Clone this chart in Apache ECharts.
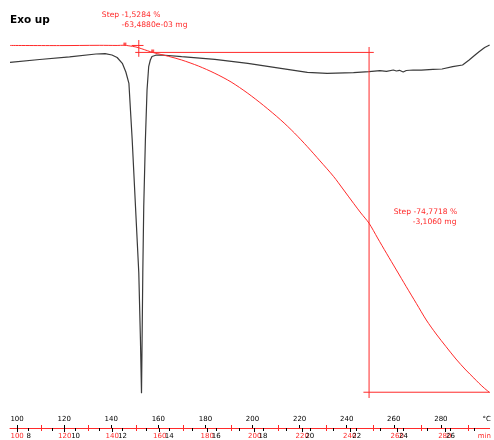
<!DOCTYPE html>
<html><head><meta charset="utf-8">
<script src="https://cdn.jsdelivr.net/npm/echarts@6/dist/echarts.min.js"></script>
<style>html,body{margin:0;padding:0;background:#fff}#c{width:494px;height:440px}</style>
</head><body><div id="c"></div>
<script>
// ---- DSC curve (temperature °C, heat flow arbitrary units, exo up) ----
const dscTemp = [97.0,109.6,122.3,133.5,137.4,140.3,142.5,144.7,146.2,147.5,148.9,150.3,151.7,152.4,152.85,153.1,153.4,153.8,154.5,155.2,155.9,156.6,157.3,158.9,161.5,169.9,184.0,198.0,212.0,223.3,231.7,242.9,249.5,254.1,256.9,259.8,261.1,262.4,264.0,265.3,268.2,271.7,276.6,280.5,285.0,289.2,292.0,294.0,296.2,298.6,300.7];
const dscHeatFlow = [-0.743,-0.65,-0.56,-0.467,-0.457,-0.5,-0.583,-0.777,-1.067,-1.443,-3.333,-5.557,-7.767,-10.0,-11.777,-10.0,-7.767,-5.557,-3.333,-1.667,-0.89,-0.667,-0.55,-0.507,-0.5,-0.557,-0.643,-0.777,-0.943,-1.077,-1.11,-1.09,-1.057,-1.023,-1.043,-1.0,-1.033,-1.01,-1.067,-1.017,-1.0,-1.007,-0.977,-0.967,-0.89,-0.833,-0.667,-0.533,-0.39,-0.25,-0.167];
// ---- TGA curve (temperature °C, mass %) ----
const tgaTemp = [97.0,118.0,134.9,142.5,145.4,147.5,150.5,153.0,155.5,158.0,164.3,169.9,177.0,184.0,190.9,198.0,204.7,212.0,217.8,223.3,228.7,234.5,238.4,242.9,246.0,249.5,253.1,256.9,261.1,265.3,269.6,273.8,278.0,282.2,286.4,290.6,294.0,296.2,298.6,300.7];
const tgaMass = [100.0,99.97,100.03,100.0,100.05,99.92,99.66,99.26,98.82,98.41,97.61,96.8,95.48,93.87,91.96,89.47,86.79,83.6,80.74,77.72,74.58,71.12,68.42,65.27,63.14,60.87,57.64,54.27,50.6,46.92,43.22,39.59,36.51,33.72,31.01,28.59,26.83,25.67,24.52,23.64];
// ---- step evaluation (temperature °C, mass %) ----
const step1Temp = 151.7, step1From = 100.0, step1To = 98.47;
const step2Temp = 249.5, step2To = 23.7;
const step1Points = [[145.8,100.3],[157.6,98.78]];
const step1Text = ['Step -1,5284 %', '-63,4880e-03 mg'];
const step2Text = ['Step -74,7718 %', '-3,1060 mg'];
// ---- tick labels ----
const tempLabels = [100,120,140,160,180,200,220,240,260,280];
const tempMinorTicks = [110,130,150,170,190,210,230,250,270,290];
const timeLabels = [8,10,12,14,16,18,20,22,24,26];
const timeTicks = [8,9,10,11,12,13,14,15,16,17,18,19,20,21,22,23,24,25,26,27];
const tempUnit = '°C', timeUnit = 'min';

const T0 = 97, T1 = 300.7;
const tOff = 25, rate = 10; // time = (T - 25)/10
const FONT = 'DejaVu Sans';
const RED = '#ff2a2a';
const GRID = {left:10, right:0, top:40, bottom:12};

function xAx(i, extra){
  const base = {type:'value', min:T0, max:T1, gridIndex:i, position:'bottom',
    splitLine:{show:false}, axisLine:{show:false, onZero:false}, axisTick:{show:false}, axisLabel:{show:false}};
  const o = Object.assign(base, extra);
  o.axisLine = Object.assign({onZero:false}, o.axisLine);
  return o;
}
function yAx(i){ return {type:'value', gridIndex:i, show:false, min:0, max:1, splitLine:{show:false}}; }

const chart = echarts.init(document.getElementById('c'), null, {renderer:'canvas'});
const lineSeries = (name, data, color, w, yIdx, smooth) => ({name, type:'line', xAxisIndex:0, yAxisIndex:yIdx, data, showSymbol:false, symbol:'none', smooth:smooth||false, lineStyle:{color, width:w}, silent:true, clip:false, z:3});

chart.setOption({
  animation:false,
  backgroundColor:'#fff',
  grid:[GRID,GRID,GRID,GRID,GRID].map(g=>Object.assign({}, g)),
  xAxis:[
    xAx(0, {axisLine:{show:true, lineStyle:{color:RED, width:1}},
        axisTick:{show:true, inside:true, length:3, customValues:tempLabels, lineStyle:{color:'#000'}},
        axisLabel:{show:true, inside:true, margin:5, color:'#000', fontSize:7, fontFamily:FONT,
          customValues:tempLabels.concat([299.5]), formatter:v=> v>290 ? tempUnit : String(v)}}),
    xAx(1, {axisTick:{show:true, inside:false, length:4, customValues:tempLabels, lineStyle:{color:'#000'}},
        axisLabel:{show:true, margin:5, color:RED, fontSize:7, fontFamily:FONT, customValues:tempLabels, formatter:v=>String(v)}}),
    xAx(2, {axisTick:{show:true, inside:true, length:3, customValues:tempMinorTicks, lineStyle:{color:RED}}}),
    xAx(3, {axisTick:{show:true, inside:false, length:3, customValues:tempMinorTicks, lineStyle:{color:RED}}}),
    xAx(4, {min:(T0-tOff)/rate, max:(T1-tOff)/rate,
     axisTick:{show:true, inside:false, length:3, customValues:timeTicks, lineStyle:{color:'#000'}},
     axisLabel:{show:true, margin:5, color:'#000', fontSize:7, fontFamily:FONT,
       customValues:timeLabels.concat([27.45]),
       formatter:v=> v>27 ? '{u|'+timeUnit+'}' : String(v), rich:{u:{color:RED, fontSize:7, fontFamily:FONT}}}})
  ],
  yAxis:[
    {type:'value', gridIndex:0, min:-12.933, max:0, show:false, splitLine:{show:false}},
    {type:'value', gridIndex:0, min:15.83, max:101.2, show:false, splitLine:{show:false}},
    yAx(1), yAx(2), yAx(3), yAx(4)
  ],
  series:[
    lineSeries('DSC', dscTemp.map((t,i)=>[t,dscHeatFlow[i]]), '#3a3a3a', 1.2, 0),
    lineSeries('TGA', tgaTemp.map((t,i)=>[t,tgaMass[i]]), RED, 1, 1, 0.3),
    lineSeries('s1v', [[step1Temp,101.2],[step1Temp,97.5]], RED, 1, 1),
    lineSeries('s1h', [[step1Temp-1.5,step1To],[step2Temp+2,step1To]], RED, 1, 1),
    lineSeries('s1t', [[step1Temp-3,step1From],[step1Temp+2,step1From]], RED, 1, 1),
    lineSeries('s2v', [[step2Temp,99.66],[step2Temp,22.43]], RED, 1, 1),
    lineSeries('s2h', [[step2Temp-2.4,step2To],[T1,step2To]], RED, 1, 1),
    {type:'scatter', xAxisIndex:0, yAxisIndex:1, data:step1Points, symbol:'rect', symbolSize:3, itemStyle:{color:RED}, silent:true, z:4}
  ]
});

function px(t, m){ return chart.convertToPixel({xAxisIndex:0, yAxisIndex:1}, [t, m]); }
const a1 = px(136.0, 107.5), b1 = px(144.4, 105.3);
const a2 = px(260.0, 64.3), b2 = px(268.0, 62.1);
const sf = '7.6px "DejaVu Sans"';
chart.setOption({graphic:[
  {type:'text', left:10, top:15, style:{text:'Exo up', font:'bold 10.5px "DejaVu Sans"', fill:'#000'}},
  {type:'text', x:a1[0], y:a1[1], style:{text:step1Text[0], font:sf, fill:RED}},
  {type:'text', x:b1[0], y:b1[1], style:{text:step1Text[1], font:sf, fill:RED}},
  {type:'text', x:a2[0], y:a2[1], style:{text:step2Text[0], font:sf, fill:RED}},
  {type:'text', x:b2[0], y:b2[1], style:{text:step2Text[1], font:sf, fill:RED}}
]});
</script></body></html>
